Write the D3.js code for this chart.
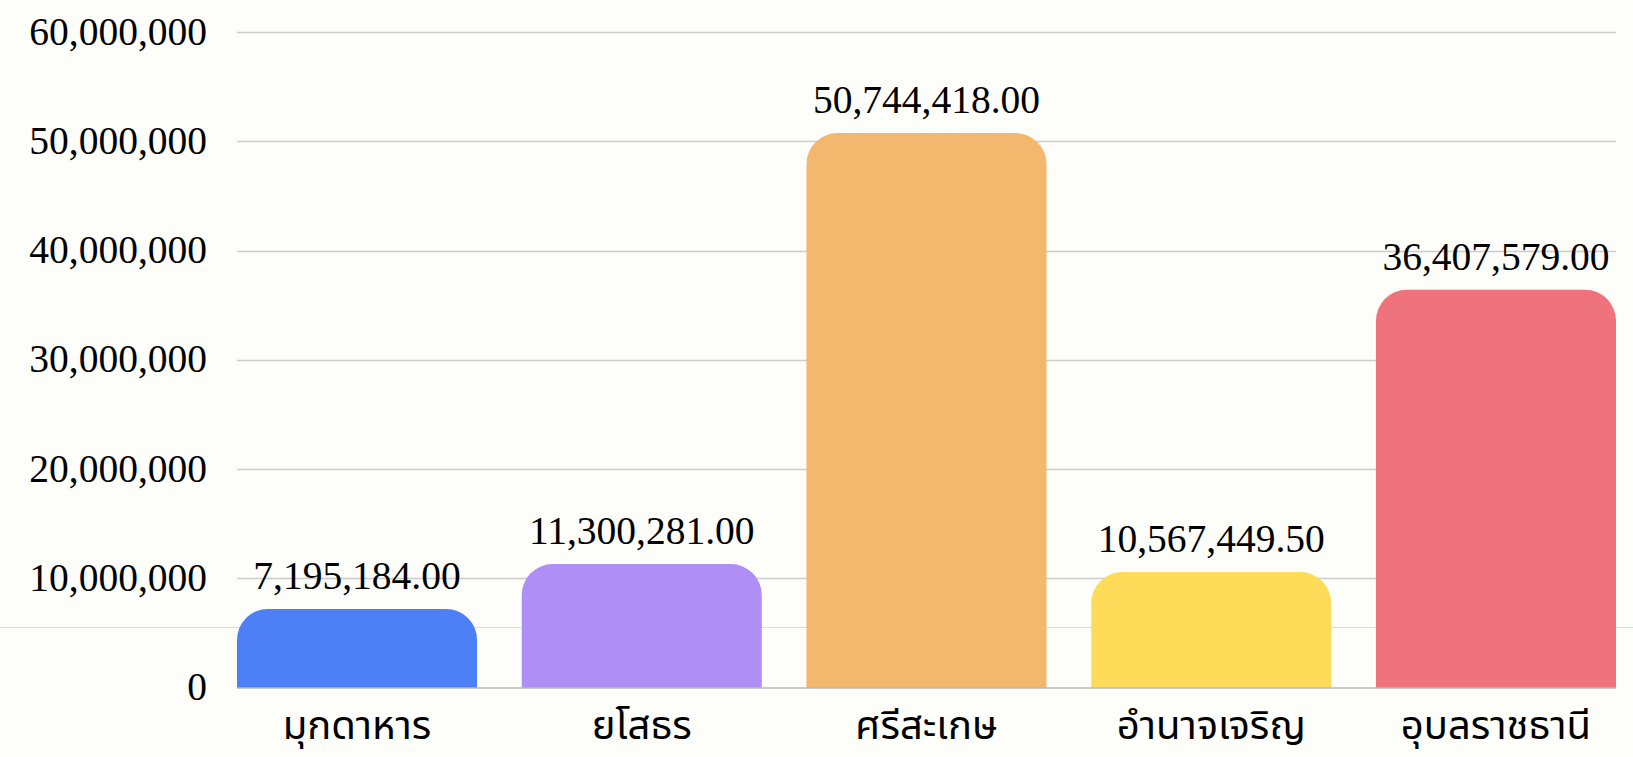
<!DOCTYPE html>
<html><head><meta charset="utf-8">
<script src="https://cdn.jsdelivr.net/npm/d3@7"></script>
<style>
html,body{margin:0;padding:0;background:#fdfdf9;}
svg{display:block;}
</style></head>
<body>
<script>
const categories = ["มุกดาหาร","ยโสธร","ศรีสะเกษ","อำนาจเจริญ","อุบลราชธานี"];
const values = [7195184.00, 11300281.00, 50744418.00, 10567449.50, 36407579.00];
const colors = ["#4d80f7","#af8ef5","#f3b76e","#fedc5a","#ef737d"];
const yTicks = [0,10000000,20000000,30000000,40000000,50000000,60000000];

const W = 1633, H = 757;
const svg = d3.select("body").append("svg").attr("width",W).attr("height",H);
svg.append("rect").attr("width",W).attr("height",H).attr("fill","#fdfdf9");

const x = d3.scaleBand().domain(categories).range([237,1616]).paddingInner(0.157).paddingOuter(0);
const y = d3.scaleLinear().domain([0,60000000]).range([687.5,32]);

// stray horizontal line
svg.append("line").attr("x1",0).attr("x2",W).attr("y1",627.5).attr("y2",627.5)
  .attr("stroke","#dcdcdc").attr("stroke-width",1);

// gridlines
svg.append("g").selectAll("line").data(yTicks.filter(d=>d>0)).join("line")
  .attr("x1",237).attr("x2",1616)
  .attr("y1",d=>Math.round(y(d))+0.5).attr("y2",d=>Math.round(y(d))+0.5)
  .attr("stroke","#cccccc").attr("stroke-width",1.3);

// y labels
const fmt = d3.format(",");
svg.append("g").selectAll("text").data(yTicks).join("text")
  .attr("x",207).attr("y",d=>y(d)).attr("dy","0.32em")
  .attr("text-anchor","end")
  .attr("font-family","'Liberation Serif','Times New Roman',serif")
  .attr("font-size",39.5).attr("fill","#000")
  .text(d=>fmt(d));

// bars with rounded top corners
const r = 31;
function barPath(x0,w,yTop,yBase){
  const rr = Math.min(r, w/2, (yBase-yTop));
  return `M${x0},${yBase} L${x0},${yTop+rr} A${rr},${rr} 0 0 1 ${x0+rr},${yTop} L${x0+w-rr},${yTop} A${rr},${rr} 0 0 1 ${x0+w},${yTop+rr} L${x0+w},${yBase} Z`;
}
svg.append("g").selectAll("path").data(categories).join("path")
  .attr("d",(c,i)=>barPath(x(c),x.bandwidth(),y(values[i]),y(0)))
  .attr("fill",(c,i)=>colors[i]);

// baseline
svg.append("line").attr("x1",237).attr("x2",1616).attr("y1",y(0)+0.5).attr("y2",y(0)+0.5)
  .attr("stroke","#999").attr("stroke-width",1);

// value labels
const vfmt = d3.format(",.2f");
svg.append("g").selectAll("text").data(categories).join("text")
  .attr("x",c=>x(c)+x.bandwidth()/2).attr("y",(c,i)=>y(values[i])-20)
  .attr("text-anchor","middle")
  .attr("font-family","'Liberation Serif','Times New Roman',serif")
  .attr("font-size",39.5).attr("fill","#000")
  .text((c,i)=>vfmt(values[i]));

// x labels
svg.append("g").selectAll("text").data(categories).join("text")
  .attr("x",c=>x(c)+x.bandwidth()/2).attr("y",739)
  .attr("text-anchor","middle")
  .attr("font-family","'Noto Sans Thai','Noto Sans',sans-serif")
  .attr("font-size",40).attr("fill","#000")
  .text(c=>c);
</script>
</body></html>
